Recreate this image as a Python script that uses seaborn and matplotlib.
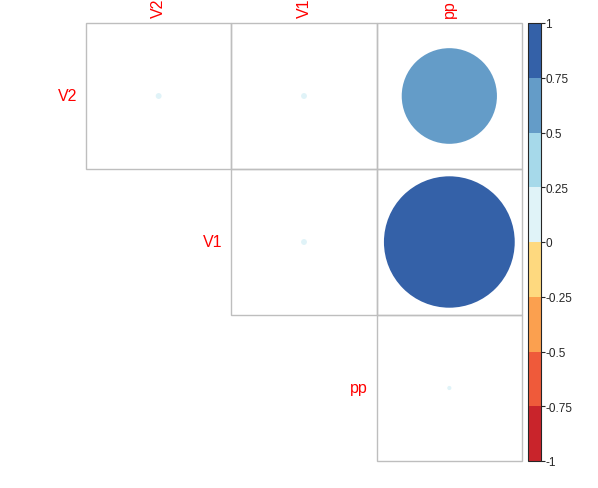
import numpy as np
import pandas as pd
import seaborn as sns
import matplotlib
matplotlib.use('Agg')
from matplotlib import pyplot as plt
from matplotlib.colors import ListedColormap, BoundaryNorm
from matplotlib.patches import Circle, Rectangle

# data
labels = ['V2', 'V1', 'pp']
row_v2 = [0.002, 0.002, 0.53]
row_v1 = [0.0, 0.002, 1.0]
row_pp = [0.0, 0.0, 0.001]
cb_ticks = [-1, -0.75, -0.5, -0.25, 0, 0.25, 0.5, 0.75, 1]
cb_labels = ['-1', '-0.75', '-0.5', '-0.25', '0', '0.25', '0.5', '0.75', '1']

df = pd.DataFrame([row_v2, row_v1, row_pp], index=labels, columns=labels)
mask = np.tril(np.ones(df.shape, dtype=bool), k=-1)

band_colors = ['#C9242B', '#EF5A3A', '#FBA04F', '#FED97F',
               '#E0F3F8', '#A6D9EA', '#649CC8', '#3461A8']
cmap = ListedColormap(band_colors)
norm = BoundaryNorm(cb_ticks, cmap.N)

sns.set_style('white')
plt.rcParams['font.family'] = ['Liberation Sans', 'DejaVu Sans']

fig = plt.figure(figsize=(5.98, 4.89), dpi=100)
ax = fig.add_axes([86 / 598, 27 / 489, 436 / 598, 438 / 489])
sns.heatmap(df, mask=mask, cmap=ListedColormap(['white']), cbar=False,
            linewidths=0, ax=ax)
ax.set_xticks([])
ax.set_yticks([])
ax.set_xlabel('')
ax.set_ylabel('')

n = len(labels)
for i in range(n):
    for j in range(n):
        if mask[i, j]:
            continue
        ax.add_patch(Rectangle((j, i), 1, 1, facecolor='none',
                               edgecolor='#BEBEBE', linewidth=1, clip_on=False))
for i in range(n):
    for j in range(n):
        if mask[i, j]:
            continue
        v = df.iloc[i, j]
        r = 0.45 * np.sqrt(abs(v))
        ax.add_patch(Circle((j + 0.5, i + 0.5), max(r, 0.01),
                            facecolor=cmap(norm(v)), edgecolor='none'))

for k, lab in enumerate(labels):
    ax.text(k + 0.5, -0.04, lab, rotation=90, ha='center', va='bottom',
            color='red', fontsize=11.5, clip_on=False)
    ax.text(k - 0.06, k + 0.5, lab, ha='right', va='center',
            color='red', fontsize=11.5, clip_on=False)

cax = fig.add_axes([528 / 598, 27 / 489, 13 / 598, 438 / 489])
sm = plt.cm.ScalarMappable(cmap=cmap, norm=norm)
cb = fig.colorbar(sm, cax=cax, ticks=cb_ticks)
cb.ax.set_yticklabels(cb_labels)
cb.ax.tick_params(labelsize=8.5, length=3, width=0.8, pad=0)
cb.outline.set_linewidth(0.8)

fig.savefig('out.png', dpi=100)
